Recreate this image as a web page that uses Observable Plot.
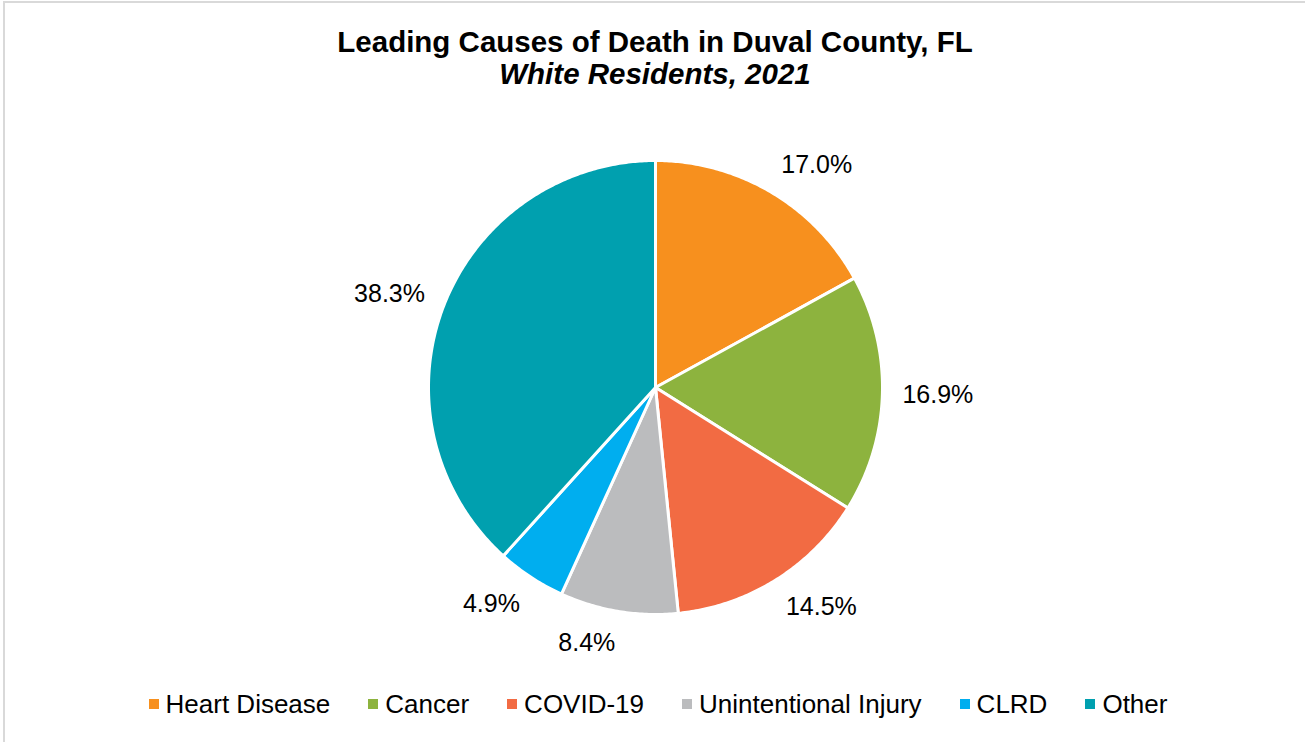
<!DOCTYPE html>
<html>
<head>
<meta charset="utf-8">
<script src="https://cdn.jsdelivr.net/npm/d3@7"></script>
<script src="https://cdn.jsdelivr.net/npm/@observablehq/plot@0.6"></script>
<style>
  html, body { margin: 0; padding: 0; background: #fff; }
  body { width: 1305px; height: 742px; overflow: hidden; position: relative; font-family: "Liberation Sans", Arial, sans-serif; }
  #frame { position: absolute; left: 3px; top: 1px; width: 1310px; height: 750px; border-left: 2px solid #d9d9d9; border-top: 2px solid #d9d9d9; box-sizing: border-box; }
  #title { position: absolute; left: 0; width: 1310px; top: 25px; text-align: center; font-weight: bold; font-size: 29.5px; line-height: 34px; color: #000; }
  #subtitle { position: absolute; left: 0; width: 1310px; top: 57px; text-align: center; font-weight: bold; font-style: italic; font-size: 29.5px; line-height: 34px; color: #000; }
  #chart { position: absolute; left: 0; top: 110px; }
  #legend { position: absolute; left: 0; width: 1316px; top: 688px; display: flex; justify-content: center; gap: 38px; font-size: 26px; line-height: 32px; color: #000; }
  .item { display: flex; align-items: center; }
  .sw { width: 10px; height: 10px; margin-right: 7px; }
</style>
</head>
<body>
<div id="frame"></div>
<div id="title">Leading Causes of Death in Duval County, FL</div>
<div id="subtitle">White Residents, 2021</div>
<div id="chart"></div>
<div id="legend"></div>
<script>
const categories = ["Heart Disease", "Cancer", "COVID-19", "Unintentional Injury", "CLRD", "Other"];
const values = [17.0, 16.9, 14.5, 8.4, 4.9, 38.3];
const colors = ["#F7901E", "#8DB33E", "#F26B43", "#BBBCBE", "#00AEEF", "#00A0AF"];

const W = 1305, H = 560, R = 227, CX = 655, CY = 277;
const labelFont = 25;
const ctx = document.createElement("canvas").getContext("2d");
ctx.font = `${labelFont}px "Liberation Sans", Arial, sans-serif`;

const pie = d3.pie().sort(null).value(d => d.value)(categories.map((c, i) => ({category: c, value: values[i]})));

const slicePts = [];
const labels = [];
pie.forEach(p => {
  const c = p.data.category;
  slicePts.push({category: c, x: 0, y: 0});
  const n = Math.max(4, Math.ceil((p.endAngle - p.startAngle) / 0.01));
  for (let k = 0; k <= n; k++) {
    const a = p.startAngle + (p.endAngle - p.startAngle) * k / n;
    slicePts.push({category: c, x: Math.sin(a), y: -Math.cos(a)});
  }
  const m = (p.startAngle + p.endAngle) / 2;
  const text = p.data.value.toFixed(1) + "%";
  const hw = ctx.measureText(text).width / 2, hh = 12;
  const rr = R + 20;
  const px = rr * Math.sin(m) + hw * Math.sign(Math.sin(m));
  const py = -rr * Math.cos(m) - hh * Math.cos(m);
  labels.push({category: c, x: px / R, y: py / R, text});
});

const chart = Plot.plot({
  width: W, height: H,
  margin: 0,
  x: {domain: [-CX / R, (W - CX) / R], range: [0, W], axis: null},
  y: {domain: [-CY / R, (H - CY) / R], range: [0, H], axis: null},
  color: {domain: categories, range: colors},
  marks: [
    Plot.line(slicePts, {x: "x", y: "y", z: "category", fill: "category", stroke: "white", strokeWidth: 3, curve: "linear-closed", strokeLinejoin: "round"}),
    Plot.text(labels, {x: "x", y: "y", text: "text", fontSize: labelFont, fill: "#000", fontFamily: "Liberation Sans, Arial, sans-serif"})
  ]
});
document.getElementById("chart").appendChild(chart);

const legend = document.getElementById("legend");
categories.forEach((c, i) => {
  const it = document.createElement("div");
  it.className = "item";
  it.innerHTML = `<span class="sw" style="background:${colors[i]}"></span><span>${c}</span>`;
  legend.appendChild(it);
});
</script>
</body>
</html>
